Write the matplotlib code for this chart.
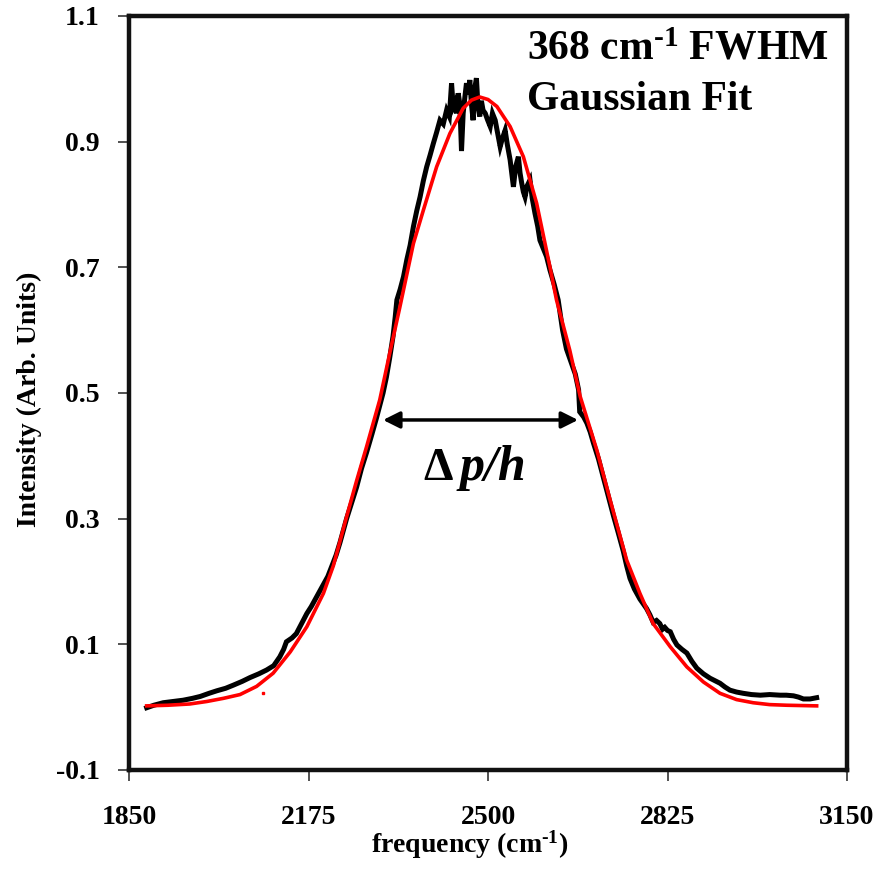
import matplotlib
matplotlib.use("Agg")
import matplotlib.pyplot as plt

plt.rcParams['font.family'] = ['Liberation Serif', 'DejaVu Serif']
plt.rcParams['font.weight'] = 'bold'
plt.rcParams['mathtext.fontset'] = 'custom'
plt.rcParams['mathtext.rm'] = 'Liberation Serif:bold'
plt.rcParams['mathtext.it'] = 'Liberation Serif:italic:bold'
plt.rcParams['mathtext.bf'] = 'Liberation Serif:bold'

# measured spectrum (black)
meas_freq = [1882, 1895, 1912, 1930, 1948, 1965, 1979, 1995, 2009, 2025, 2039, 2055, 2069, 2085,
             2099, 2112, 2123, 2130, 2135, 2145, 2153, 2162, 2172, 2180, 2190, 2202, 2210, 2217,
             2225, 2232, 2244, 2253, 2262, 2271, 2280, 2290, 2298, 2304, 2310, 2316, 2322, 2328,
             2332, 2335, 2341, 2347, 2353, 2359, 2365, 2371, 2377, 2383, 2389, 2395, 2401, 2407,
             2413, 2419, 2425, 2430, 2434, 2437, 2440, 2443, 2446, 2449, 2452, 2455, 2458, 2461,
             2464, 2467, 2470, 2473, 2476, 2479, 2482, 2485, 2488, 2491, 2495, 2499, 2504, 2508,
             2513, 2517, 2522, 2526, 2531, 2535, 2540, 2543, 2546, 2550, 2555, 2558, 2561, 2564,
             2567, 2571, 2576, 2580, 2585, 2590, 2594, 2600, 2606, 2612, 2620, 2627, 2635, 2642,
             2650, 2658, 2664, 2666, 2673, 2679, 2685, 2691, 2700, 2709, 2718, 2727, 2735, 2745,
             2751, 2757, 2765, 2775, 2787, 2793, 2799, 2805, 2811, 2816, 2820, 2825, 2830, 2836,
             2842, 2851, 2860, 2869, 2878, 2890, 2902, 2911, 2920, 2929, 2938, 2950, 2962, 2977,
             2993, 3010, 3029, 3040, 3053, 3062, 3071, 3083, 3095]
meas_int = [-0.001, 0.003, 0.007, 0.009, 0.011, 0.014, 0.017, 0.022, 0.026, 0.030, 0.035, 0.041, 0.047, 0.053,
            0.059, 0.066, 0.080, 0.092, 0.104, 0.110, 0.117, 0.132, 0.149, 0.160, 0.176, 0.195, 0.208, 0.224,
            0.242, 0.262, 0.300, 0.325, 0.350, 0.380, 0.405, 0.435, 0.460, 0.480, 0.500, 0.525, 0.556, 0.590,
            0.621, 0.648, 0.665, 0.685, 0.712, 0.735, 0.765, 0.790, 0.812, 0.838, 0.860, 0.878, 0.897, 0.915,
            0.934, 0.928, 0.950, 0.940, 0.993, 0.955, 0.961, 0.945, 0.977, 0.960, 0.885, 0.945, 0.970, 0.993,
            0.975, 0.998, 0.960, 0.934, 0.985, 1.001, 0.955, 0.940, 0.965, 0.950, 0.945, 0.935, 0.924, 0.945,
            0.934, 0.915, 0.892, 0.905, 0.918, 0.895, 0.871, 0.850, 0.828, 0.860, 0.876, 0.850, 0.834, 0.820,
            0.812, 0.830, 0.839, 0.810, 0.786, 0.765, 0.743, 0.730, 0.717, 0.696, 0.672, 0.648, 0.600, 0.570,
            0.550, 0.530, 0.505, 0.470, 0.462, 0.452, 0.438, 0.420, 0.395, 0.365, 0.335, 0.305, 0.280, 0.248,
            0.225, 0.205, 0.188, 0.172, 0.157, 0.147, 0.135, 0.138, 0.133, 0.124, 0.127, 0.122, 0.120, 0.108,
            0.099, 0.092, 0.086, 0.073, 0.062, 0.053, 0.046, 0.042, 0.038, 0.032, 0.027, 0.024, 0.022, 0.020,
            0.019, 0.020, 0.019, 0.019, 0.018, 0.016, 0.013, 0.013, 0.015]

# Gaussian fit (red)
fit_freq = [1882, 1920, 1960, 1991, 2021, 2051, 2081, 2111, 2142, 2172, 2202, 2220, 2244, 2262, 2280,
            2304, 2322, 2340, 2365, 2383, 2407, 2431, 2455, 2470, 2485, 2500, 2516, 2540, 2564, 2588,
            2612, 2624, 2648, 2667, 2697, 2721, 2751, 2775, 2799, 2830, 2860, 2890, 2920, 2950, 2980,
            3010, 3041, 3095]
fit_int = [0.002, 0.003, 0.005, 0.009, 0.014, 0.020, 0.033, 0.054, 0.088, 0.128, 0.181, 0.225, 0.303, 0.360, 0.414,
           0.489, 0.563, 0.635, 0.738, 0.791, 0.860, 0.913, 0.953, 0.966, 0.971, 0.967, 0.956, 0.924, 0.876, 0.802,
           0.701, 0.648, 0.568, 0.494, 0.409, 0.330, 0.234, 0.181, 0.133, 0.096, 0.064, 0.040, 0.022, 0.012, 0.007,
           0.004, 0.003, 0.002]
stray_freq = [2093]
stray_int = [0.022]

# FWHM arrow
fwhm_left, fwhm_right, fwhm_level = 2310, 2663, 0.457

xticks = [1850, 2175, 2500, 2825, 3150]
yticks = [-0.1, 0.1, 0.3, 0.5, 0.7, 0.9, 1.1]

fig = plt.figure(figsize=(8.89, 8.71), dpi=100)
ax = fig.add_axes([0.1451, 0.1160, 0.8077, 0.8657])

ax.plot(meas_freq, meas_int, color='black', lw=3.6, solid_joinstyle='miter', zorder=2)
ax.plot(fit_freq, fit_int, color='#ff0000', lw=2.6, zorder=3)
ax.plot(stray_freq, stray_int, 's', color='#ff0000', ms=2, zorder=3)

ax.annotate('', xy=(fwhm_left, fwhm_level), xytext=(fwhm_right, fwhm_level),
            arrowprops=dict(arrowstyle='<|-|>', color='black', lw=2.5,
                            mutation_scale=25, shrinkA=0, shrinkB=0), zorder=4)

ax.text(0.451, 0.385, '\u0394', transform=ax.transAxes, fontsize=34, fontweight='bold',
        ha='right', va='baseline')
ax.text(0.460, 0.385, 'p/h', transform=ax.transAxes, fontsize=36, fontweight='bold',
        fontstyle='italic', ha='left', va='baseline')

ax.text(0.554, 0.9416, '368 cm$^{\\mathrm{\u20101}}$ FWHM', transform=ax.transAxes,
        fontsize=30, fontweight='bold', ha='left', va='baseline')
ax.text(0.554, 0.8753, 'Gaussian Fit', transform=ax.transAxes,
        fontsize=30, fontweight='bold', ha='left', va='baseline')

ax.set_xlim(1850, 3150)
ax.set_ylim(-0.1, 1.1)
ax.set_xticks(xticks)
ax.set_yticks(yticks)
ax.set_xticklabels([str(t) for t in xticks])
ax.set_yticklabels(['-0.1', '0.1', '0.3', '0.5', '0.7', '0.9', '1.1'])

for s in ax.spines.values():
    s.set_linewidth(3.2)
    s.set_color('#111111')

ax.tick_params(axis='both', direction='out', length=8, width=1.2, labelsize=20, color='#333333')
ax.tick_params(axis='x', pad=17)
ax.tick_params(axis='y', pad=13)
for lbl in ax.get_xticklabels() + ax.get_yticklabels():
    lbl.set_fontweight('bold')

ax.set_xlabel('frequency (cm$^{\\mathrm{\u20101}}$)', fontsize=20, fontweight='bold')
ax.set_ylabel('Intensity (Arb. Units)', fontsize=20, fontweight='bold')
ax.xaxis.set_label_coords(0.475, -0.078)
ax.yaxis.set_label_coords(-0.121, 0.492)

fig.savefig('out.png', dpi=100)
